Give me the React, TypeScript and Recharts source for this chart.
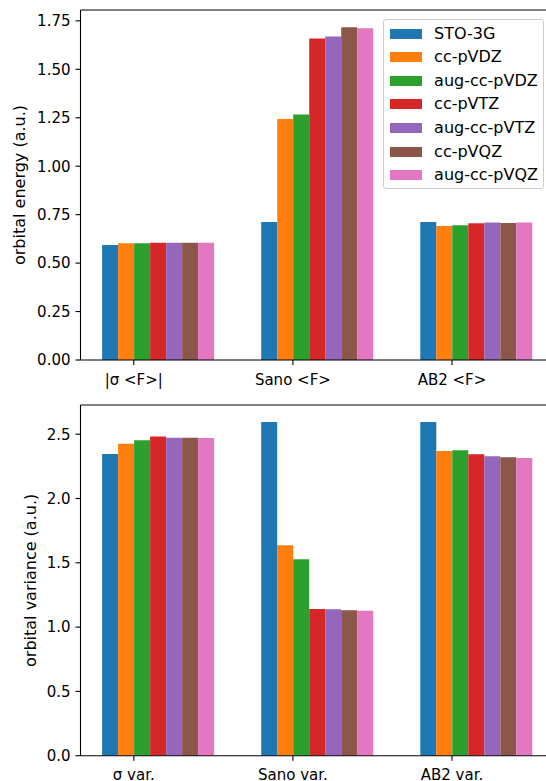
import React from 'react';
import { BarChart, Bar, XAxis, YAxis, Legend, ReferenceLine } from 'recharts';

const basisSets = ['STO-3G', 'cc-pVDZ', 'aug-cc-pVDZ', 'cc-pVTZ', 'aug-cc-pVTZ', 'cc-pVQZ', 'aug-cc-pVQZ'];
const colors = ['#1f77b4', '#ff7f0e', '#2ca02c', '#d62728', '#9467bd', '#8c564b', '#e377c2'];

const energyCategories = ['|σ <F>|', 'Sano <F>', 'AB2 <F>'];
const varianceCategories = ['σ var.', 'Sano var.', 'AB2 var.'];

// energy values per basis set: [|σ <F>|, Sano <F>, AB2 <F>]
const energySTO3G = [0.593, 0.712, 0.712];
const energyCcPVDZ = [0.602, 1.243, 0.691];
const energyAugCcPVDZ = [0.602, 1.267, 0.695];
const energyCcPVTZ = [0.605, 1.659, 0.705];
const energyAugCcPVTZ = [0.605, 1.669, 0.710];
const energyCcPVQZ = [0.605, 1.717, 0.707];
const energyAugCcPVQZ = [0.605, 1.712, 0.709];

// variance values per basis set: [σ var., Sano var., AB2 var.]
const varSTO3G = [2.346, 2.595, 2.595];
const varCcPVDZ = [2.426, 1.636, 2.369];
const varAugCcPVDZ = [2.452, 1.527, 2.375];
const varCcPVTZ = [2.483, 1.141, 2.344];
const varAugCcPVTZ = [2.473, 1.138, 2.328];
const varCcPVQZ = [2.473, 1.131, 2.320];
const varAugCcPVQZ = [2.470, 1.128, 2.315];

const energyTicks = [0, 0.25, 0.5, 0.75, 1.0, 1.25, 1.5, 1.75];
const varianceTicks = [0, 0.5, 1.0, 1.5, 2.0, 2.5];

const energySeries = [energySTO3G, energyCcPVDZ, energyAugCcPVDZ, energyCcPVTZ, energyAugCcPVTZ, energyCcPVQZ, energyAugCcPVQZ];
const varianceSeries = [varSTO3G, varCcPVDZ, varAugCcPVDZ, varCcPVTZ, varAugCcPVTZ, varCcPVQZ, varAugCcPVQZ];

const buildRows = (cats: string[], series: number[][]) =>
  cats.map((name, i) => {
    const row: Record<string, any> = { x: i, name };
    basisSets.forEach((b, j) => {
      row[b] = series[j][i];
    });
    return row;
  });

const energyData = buildRows(energyCategories, energySeries);
const varianceData = buildRows(varianceCategories, varianceSeries);

const FONT = '"DejaVu Sans", sans-serif';
const TICK_OFFSET = 0.15;
const X_DOMAIN: [number, number] = [-0.485, 2.485];

const LegendBox = () => (
  <div
    style={{
      boxSizing: 'border-box',
      width: 161,
      height: 170,
      border: '1px solid #cccccc',
      borderRadius: 3,
      background: 'rgba(255,255,255,0.8)',
      paddingTop: 2.4,
      fontFamily: FONT,
      fontSize: 16,
      color: '#000',
    }}
  >
    {basisSets.map((b, i) => (
      <div key={b} style={{ display: 'flex', alignItems: 'center', height: 23.6 }}>
        <div style={{ marginLeft: 5.7, width: 32.5, height: 10, background: colors[i] }} />
        <span style={{ marginLeft: 11.6, lineHeight: 1, whiteSpace: 'nowrap' }}>{b}</span>
      </div>
    ))}
  </div>
);

const makeYLabel = (text: string, x: number) => (props: any) => {
  const vb = props.viewBox || { y: 0, height: 0 };
  const cy = vb.y + vb.height / 2;
  return (
    <text
      x={x}
      y={cy}
      transform={`rotate(-90, ${x}, ${cy})`}
      textAnchor="middle"
      fontFamily={FONT}
      fontSize={16}
      fill="#000"
    >
      {text}
    </text>
  );
};

interface PanelProps {
  data: Record<string, any>[];
  cats: string[];
  ymax: number;
  yTicks: number[];
  decimals: number;
  height: number;
  marginTop: number;
  xAxisHeight: number;
  ylabel: string;
  ylabelX: number;
  showLegend?: boolean;
}

const Panel = ({ data, cats, ymax, yTicks, decimals, height, marginTop, xAxisHeight, ylabel, ylabelX, showLegend }: PanelProps) => (
  <BarChart
    width={560}
    height={height}
    data={data}
    margin={{ top: marginTop, right: 7, bottom: 0, left: 0 }}
    barGap={0}
    barSize={16}
  >
    <XAxis
      type="number"
      dataKey="x"
      domain={X_DOMAIN}
      allowDataOverflow
      ticks={[0 - TICK_OFFSET, 1 - TICK_OFFSET, 2 - TICK_OFFSET]}
      interval={0}
      tickFormatter={(v: number) => cats[Math.round(v + TICK_OFFSET)]}
      height={xAxisHeight}
      tickSize={5}
      tickMargin={9}
      axisLine={{ stroke: '#000', strokeWidth: 1.1 }}
      tickLine={{ stroke: '#000', strokeWidth: 1.1 }}
      tick={{ fill: '#000', fontSize: 15, fontFamily: FONT }}
    />
    <YAxis
      type="number"
      domain={[0, ymax]}
      allowDataOverflow
      ticks={yTicks}
      interval={0}
      tickFormatter={(v: number) => v.toFixed(decimals)}
      width={80.5}
      tickSize={5}
      tickMargin={5}
      axisLine={{ stroke: '#000', strokeWidth: 1.1 }}
      tickLine={{ stroke: '#000', strokeWidth: 1.1 }}
      tick={{ fill: '#000', fontSize: 15, fontFamily: FONT }}
      label={{ value: ylabel, content: makeYLabel(ylabel, ylabelX) }}
    />
    <ReferenceLine y={ymax} stroke="#000" strokeWidth={1.1} ifOverflow="visible" />
    <ReferenceLine x={X_DOMAIN[1]} stroke="#000" strokeWidth={1.1} ifOverflow="visible" />
    {basisSets.map((b, i) => (
      <Bar key={b} dataKey={b} fill={colors[i]} isAnimationActive={false} />
    ))}
    {showLegend && (
      <Legend
        layout="vertical"
        align="center"
        verticalAlign="middle"
        content={() => <LegendBox />}
        wrapperStyle={{ left: 383.3, top: 18.5, width: 161, height: 170, margin: 0 }}
      />
    )}
  </BarChart>
);

export default function App() {
  return (
    <div
      style={{
        position: 'absolute',
        left: 0,
        top: 0,
        width: 546,
        height: 781,
        overflow: 'hidden',
        background: '#fff',
      }}
    >
      <div style={{ position: 'absolute', left: 0, top: 0 }}>
        <Panel
          data={energyData}
          cats={energyCategories}
          ymax={1.806}
          yTicks={energyTicks}
          decimals={2}
          height={395}
          marginTop={10}
          xAxisHeight={35}
          ylabel="orbital energy (a.u.)"
          ylabelX={25}
          showLegend
        />
      </div>
      <div style={{ position: 'absolute', left: 0, top: 390 }}>
        <Panel
          data={varianceData}
          cats={varianceCategories}
          ymax={2.727}
          yTicks={varianceTicks}
          decimals={1}
          height={420}
          marginTop={15}
          xAxisHeight={54.3}
          ylabel="orbital variance (a.u.)"
          ylabelX={36}
        />
      </div>
    </div>
  );
}
